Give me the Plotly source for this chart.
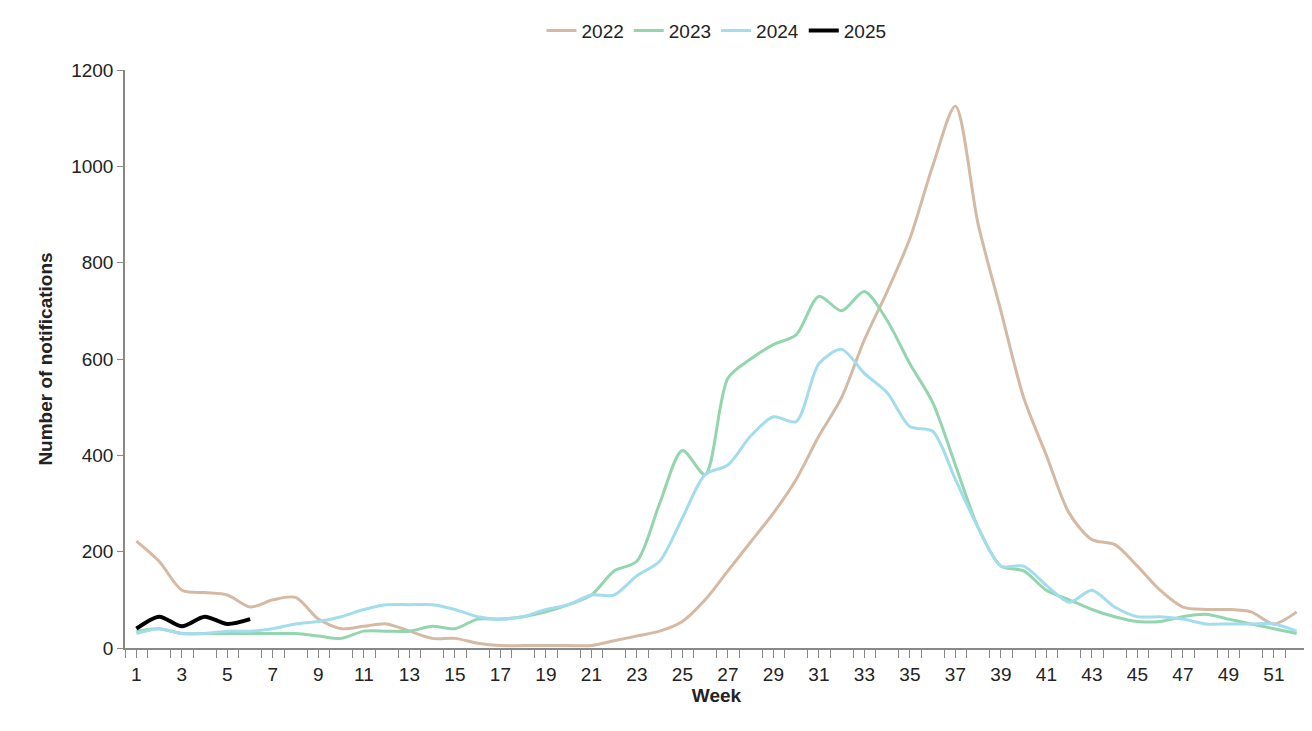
import plotly.graph_objects as go

weeks = list(range(1, 53))

y2022 = [222, 180, 120, 115, 110, 85, 100, 105, 60, 40, 45, 50, 35, 20, 20, 10, 5, 5, 5, 5,
         5, 15, 25, 35, 55, 100, 160, 220, 280, 350, 440, 520, 640, 740, 850, 1000, 1125, 880,
         700, 520, 400, 280, 225, 215, 170, 120, 85, 80, 80, 75, 50, 75]
y2023 = [35, 40, 30, 30, 30, 30, 30, 30, 25, 20, 35, 35, 35, 45, 40, 60, 60, 65, 75, 90,
         110, 160, 180, 300, 410, 360, 560, 600, 630, 650, 730, 700, 740, 680, 590, 510, 380, 250,
         170, 160, 120, 100, 80, 65, 55, 55, 65, 70, 60, 50, 40, 30]
y2024 = [30, 40, 30, 30, 35, 35, 40, 50, 55, 65, 80, 90, 90, 90, 80, 65, 60, 65, 80, 90,
         110, 110, 150, 180, 270, 360, 380, 440, 480, 470, 590, 620, 570, 530, 460, 450, 350, 250,
         170, 170, 130, 95, 120, 85, 65, 65, 60, 50, 50, 50, 50, 35]
y2025 = [40, 65, 45, 65, 50, 60]

series = [("2022", y2022, "#d5b9a3", 3), ("2023", y2023, "#93d5ad", 3),
          ("2024", y2024, "#a3dcec", 3), ("2025", y2025, "#000000", 4)]

fig = go.Figure()
for name, vals, color, w in series:
    fig.add_trace(go.Scatter(x=weeks[:len(vals)], y=vals, name=name, mode="lines",
                             line=dict(color=color, width=w, shape="spline", smoothing=0.8)))

fig.update_layout(
    width=1300, height=715,
    paper_bgcolor="white", plot_bgcolor="white",
    font=dict(family="Liberation Sans, Arial", size=19, color="#222"),
    margin=dict(l=117, r=0, t=62, b=75, autoexpand=False),
    legend=dict(orientation="h", x=0.5, xanchor="center", y=0.995, yref="container",
                yanchor="top", font=dict(size=19)),
    xaxis=dict(range=[0.5, 52.5], tickmode="array", tickvals=list(range(1, 53, 2)),
               automargin=False,
               showline=True, linecolor="#888", linewidth=1.5, ticks="outside",
               ticklen=8, tickcolor="#888", showgrid=False, zeroline=False,
               minor=dict(dtick=1, ticks="outside", ticklen=8, tickcolor="#888", tick0=0.5),
               title=dict(text="<b>Week</b>", standoff=2, font=dict(size=19))),
    yaxis=dict(range=[0, 1200], dtick=200, showline=True, linecolor="#888", linewidth=1.5,
               automargin=False,
               ticks="outside", ticklen=6, tickcolor="#888", showgrid=False, zeroline=False,
               title=dict(text="<b>Number of notifications</b>", standoff=14, font=dict(size=19))),
)

fig.write_html("out.html")
